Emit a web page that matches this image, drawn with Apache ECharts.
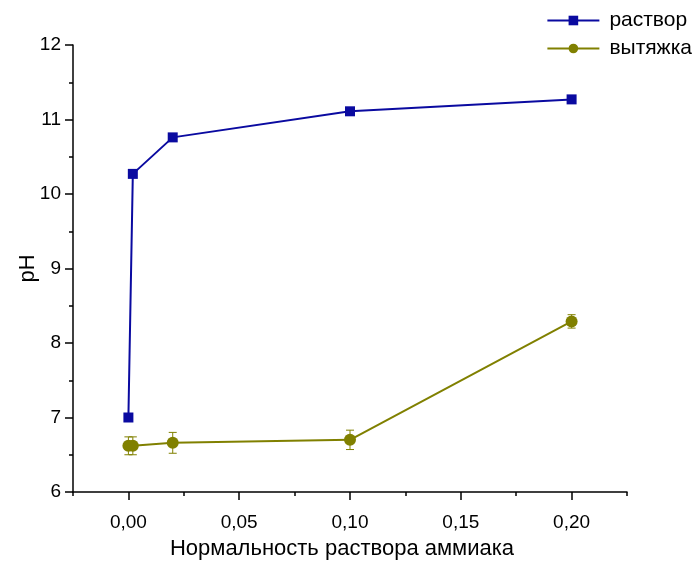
<!DOCTYPE html>
<html>
<head>
<meta charset="utf-8">
<script src="https://cdn.jsdelivr.net/npm/echarts@6/dist/echarts.min.js"></script>
<style>html,body{margin:0;padding:0;background:#fff;}#c{width:699px;height:562px;}</style>
</head>
<body>
<div id="c"></div>
<script>
// Data
var xValues = [0, 0.002, 0.02, 0.1, 0.2];
var rastvor = [7.0, 10.27, 10.76, 11.11, 11.27];
var vytyazhka = [6.62, 6.62, 6.66, 6.70, 8.29];
var vytyazhkaErr = [0.12, 0.12, 0.14, 0.13, 0.09];
var xMajorTicks = [0, 0.05, 0.10, 0.15, 0.20];
var xMinorTicks = [-0.025, 0.025, 0.075, 0.125, 0.175, 0.225];
var seriesNames = ['раствор', 'вытяжка'];
var xTitle = 'Нормальность раствора аммиака';
var yTitle = 'pH';

var FONT = '"Liberation Sans", Arial, sans-serif';
var BLUE = '#0a0aa0';
var OLIVE = '#808000';

var blueData = xValues.map(function (x, i) { return [x, rastvor[i]]; });
var oliveData = xValues.map(function (x, i) { return [x, vytyazhka[i]]; });
var errData = xValues.map(function (x, i) { return [x, vytyazhka[i] - vytyazhkaErr[i], vytyazhka[i] + vytyazhkaErr[i]]; });

var chart = echarts.init(document.getElementById('c'), null, { renderer: 'canvas' });
chart.setOption({
  animation: false,
  backgroundColor: '#fff',
  textStyle: { fontFamily: FONT },
  grid: { left: 73, right: 72, top: 45, bottom: 70, containLabel: false, outerBoundsMode: 'none' },
  legend: {
    orient: 'vertical',
    right: 2,
    top: 5,
    itemWidth: 52,
    itemHeight: 12,
    itemGap: 7,
    data: seriesNames,
    textStyle: { fontFamily: FONT, fontSize: 21, color: '#000', padding: [0, 0, 0, 5] }
  },
  xAxis: [{
    type: 'value',
    min: -0.025,
    max: 0.225,
    position: 'bottom',
    name: xTitle,
    nameLocation: 'middle',
    nameGap: 46,
    nameMoveOverlap: false,
    nameTextStyle: { fontFamily: FONT, fontSize: 22, color: '#000', padding: [0, 16, 0, 0] },
    axisLine: { show: true, onZero: false, lineStyle: { color: '#000', width: 1.5 } },
    axisTick: { show: true, length: 8, customValues: xMajorTicks, lineStyle: { color: '#000', width: 1.5 } },
    axisLabel: {
      customValues: xMajorTicks,
      margin: 21,
      fontFamily: FONT, fontSize: 19, color: '#000',
      formatter: function (v) { return v.toFixed(2).replace('.', ','); }
    },
    splitLine: { show: false }
  }, {
    type: 'value',
    min: -0.025,
    max: 0.225,
    position: 'bottom',
    axisLine: { show: false, onZero: false },
    axisTick: { show: true, length: 4, customValues: xMinorTicks, lineStyle: { color: '#000', width: 1.5 } },
    axisLabel: { show: false },
    splitLine: { show: false }
  }],
  yAxis: {
    type: 'value',
    min: 6,
    max: 12,
    interval: 1,
    name: yTitle,
    nameLocation: 'middle',
    nameGap: 34,
    nameMoveOverlap: false,
    nameTextStyle: { fontFamily: FONT, fontSize: 22, color: '#000' },
    axisLine: { show: true, onZero: false, lineStyle: { color: '#000', width: 1.5 } },
    axisTick: { show: true, length: 8, lineStyle: { color: '#000', width: 1.5 } },
    minorTick: { show: true, splitNumber: 2, length: 4, lineStyle: { color: '#000', width: 1.5 } },
    axisLabel: { margin: 12, fontFamily: FONT, fontSize: 19, color: '#000' },
    splitLine: { show: false }
  },
  series: [{
    name: seriesNames[0],
    type: 'line',
    data: blueData,
    symbol: 'rect',
    symbolSize: 10,
    color: BLUE,
    lineStyle: { color: BLUE, width: 2 },
    itemStyle: { color: BLUE },
    z: 3
  }, {
    type: 'custom',
    data: errData,
    renderItem: function (params, api) {
      var x = api.value(0);
      var lo = api.coord([x, api.value(1)]);
      var hi = api.coord([x, api.value(2)]);
      var cw = 4;
      var st = { stroke: OLIVE, lineWidth: 1, fill: null };
      return {
        type: 'group',
        children: [
          { type: 'line', shape: { x1: lo[0], y1: lo[1], x2: hi[0], y2: hi[1] }, style: st },
          { type: 'line', shape: { x1: lo[0] - cw, y1: lo[1], x2: lo[0] + cw, y2: lo[1] }, style: st },
          { type: 'line', shape: { x1: hi[0] - cw, y1: hi[1], x2: hi[0] + cw, y2: hi[1] }, style: st }
        ]
      };
    },
    z: 2,
    silent: true
  }, {
    name: seriesNames[1],
    type: 'line',
    data: oliveData,
    symbol: 'circle',
    symbolSize: 12,
    color: OLIVE,
    lineStyle: { color: OLIVE, width: 2 },
    itemStyle: { color: OLIVE },
    z: 3
  }]
});
</script>
</body>
</html>
